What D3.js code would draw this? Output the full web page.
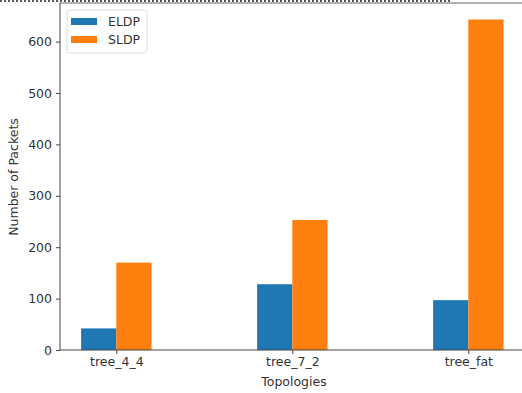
<!DOCTYPE html>
<html><head><meta charset="utf-8">
<script src="https://cdn.jsdelivr.net/npm/d3@7"></script>
<style>body{margin:0;background:#fff}svg{display:block;font-family:"DejaVu Sans",sans-serif}</style>
</head><body><svg id="c" width="522" height="393"></svg>
<script>
const categories = ["tree_4_4", "tree_7_2", "tree_fat"];
const eldp = [42, 128, 97];
const sldp = [170, 253, 643];
const seriesNames = ["ELDP", "SLDP"];
const yTicks = [0, 100, 200, 300, 400, 500, 600];
const colors = ["#1f77b4", "#ff7f0e"];

const svg = d3.select("#c");
const L = 60, B = 350, T = 3;
const barW = 0.2;
const xlo = -0.32, xhi = 2.32;
const x = d3.scaleLinear().domain([xlo, xhi]).range([L, L + (xhi - xlo) * 176]);
const ymax = d3.max(sldp.concat(eldp)) * 1.05;
const y = d3.scaleLinear().domain([0, ymax]).range([B, T]);

// clipped text strip at top
svg.append("line").attr("x1", 0).attr("x2", 452).attr("y1", 1).attr("y2", 1)
  .attr("stroke", "#222").attr("stroke-width", 1.5).attr("stroke-dasharray", "2,2");

const series = [eldp, sldp];
series.forEach((vals, si) => {
  svg.append("g").selectAll("rect").data(vals).join("rect")
    .attr("x", (d, i) => x(i + (si === 0 ? -barW : 0)))
    .attr("width", x(barW) - x(0))
    .attr("y", d => y(d))
    .attr("height", d => y(0) - y(d))
    .attr("fill", colors[si]);
});

// spines
svg.append("line").attr("x1", L).attr("x2", L).attr("y1", T).attr("y2", B).attr("stroke", "#444");
svg.append("line").attr("x1", L).attr("x2", 522).attr("y1", T).attr("y2", T).attr("stroke", "#666");

const yAxis = svg.append("g").attr("transform", `translate(${L},0)`)
  .call(d3.axisLeft(y).tickValues(yTicks).tickSize(4).tickPadding(4));
yAxis.select(".domain").remove();
yAxis.selectAll("line").attr("stroke", "#444");
yAxis.selectAll("text").attr("font-size", "12.5px").attr("fill", "#333").attr("font-family", "DejaVu Sans");

const xAxis = svg.append("g").attr("transform", `translate(0,${B})`)
  .call(d3.axisBottom(x).tickValues([0, 1, 2]).tickFormat(i => categories[i]).tickSize(4).tickPadding(3));
xAxis.select(".domain").attr("stroke", "#444").attr("d", `M${L},0H522`);
xAxis.selectAll("line").attr("stroke", "#444");
xAxis.selectAll("text").attr("font-size", "12.5px").attr("fill", "#333").attr("font-family", "DejaVu Sans");

svg.append("text").attr("x", (L + 522) / 2 + 3).attr("y", 386).attr("text-anchor", "middle")
  .attr("font-size", "12.5px").attr("fill", "#333").text("Topologies");
svg.append("text").attr("transform", "translate(18,177) rotate(-90)").attr("text-anchor", "middle")
  .attr("font-size", "12.5px").attr("fill", "#333").text("Number of Packets");

// legend
const lg = svg.append("g");
lg.append("rect").attr("x", 67).attr("y", 10).attr("width", 80).attr("height", 43).attr("rx", 3)
  .attr("fill", "#fff").attr("fill-opacity", 0.8).attr("stroke", "#ddd");
seriesNames.forEach((n, i) => {
  lg.append("rect").attr("x", 71).attr("y", 18 + i * 18).attr("width", 26).attr("height", 7).attr("fill", colors[i]);
  lg.append("text").attr("x", 108).attr("y", 26 + i * 18).attr("font-size", "12.5px").attr("fill", "#333").text(n);
});
</script></body></html>
